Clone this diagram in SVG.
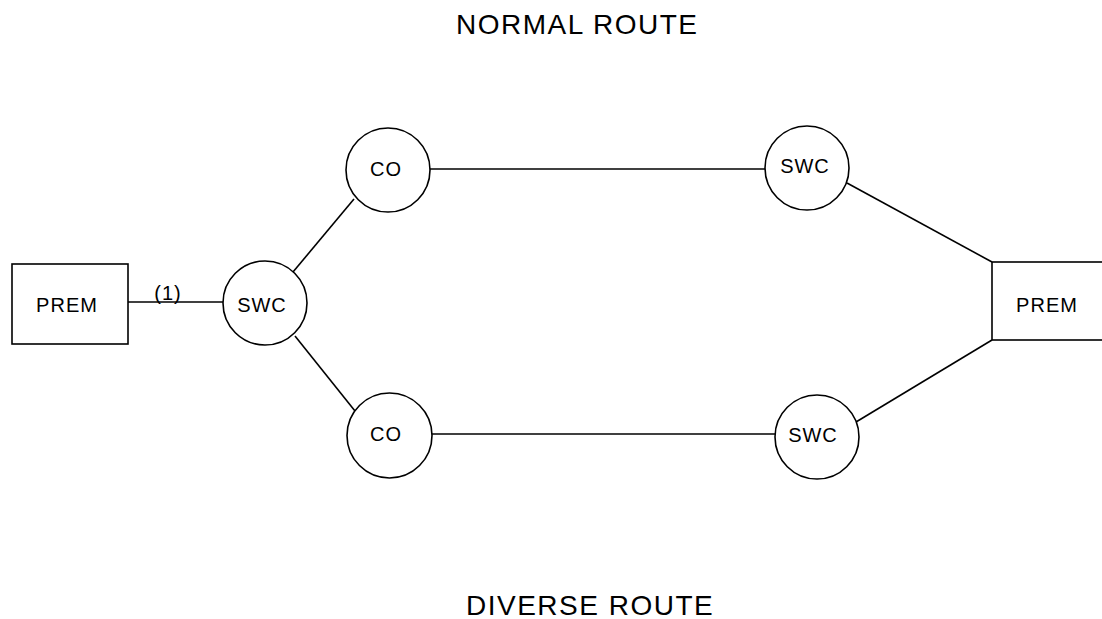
<svg xmlns="http://www.w3.org/2000/svg" width="1102" height="619" viewBox="0 0 1102 619">
<style>
.shape{fill:#fff;stroke:#000;stroke-width:1.6}
.conn line{stroke:#000;stroke-width:1.6}
.lbl{font-family:"Liberation Sans",Arial,sans-serif;font-size:20px;letter-spacing:1px;fill:#000;text-anchor:middle}
.title{font-family:"Liberation Sans",Arial,sans-serif;font-size:28px;letter-spacing:1.5px;fill:#000}
</style>
<rect width="1102" height="619" fill="#fff"/>
<text class="title" x="456" y="34">NORMAL ROUTE</text>
<text class="title" x="466" y="615">DIVERSE ROUTE</text>
<g id="connectors" class="conn">
<line x1="128" y1="302" x2="223" y2="302"/>
<line x1="293" y1="272" x2="354" y2="199"/>
<line x1="295" y1="336" x2="355" y2="411"/>
<line x1="430" y1="169" x2="765" y2="169"/>
<line x1="432" y1="434" x2="775" y2="434"/>
<line x1="847" y1="183" x2="992" y2="262"/>
<line x1="856" y1="422" x2="992" y2="340"/>
<text class="lbl" x="168" y="300">(1)</text>
</g>
<g id="prem-left"><rect class="shape" x="12" y="264" width="116" height="80"/><text class="lbl" x="67" y="312">PREM</text></g>
<g id="swc-left"><circle class="shape" cx="265" cy="303" r="42"/><text class="lbl" x="262" y="312">SWC</text></g>
<g id="co-top"><circle class="shape" cx="388" cy="170" r="42"/><text class="lbl" x="386" y="176">CO</text></g>
<g id="co-bottom"><circle class="shape" cx="389.5" cy="435.5" r="42.5"/><text class="lbl" x="386" y="441">CO</text></g>
<g id="swc-top-right"><circle class="shape" cx="807" cy="168" r="42"/><text class="lbl" x="805" y="173">SWC</text></g>
<g id="swc-bottom-right"><circle class="shape" cx="817" cy="437" r="42"/><text class="lbl" x="813" y="442">SWC</text></g>
<g id="prem-right"><rect class="shape" x="992" y="262" width="115" height="78"/><text class="lbl" x="1047" y="312">PREM</text></g>
</svg>
